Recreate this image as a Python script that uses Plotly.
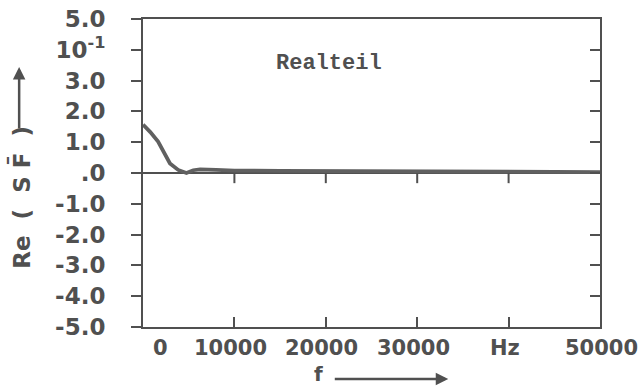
import plotly.graph_objects as go

# constants:
INK = "#505050"
TICK_FONT = "DejaVu Sans"

# data:
freq_hz = [0, 800, 1650, 2400, 2950, 3850, 4750, 5500, 6250, 8000, 10000, 15000, 20000, 30000, 40000, 50000]
re_sf = [1.57, 1.33, 1.02, 0.62, 0.31, 0.10, 0.00, 0.09, 0.12, 0.10, 0.08, 0.07, 0.06, 0.05, 0.04, 0.03]

x_tickvals = [0, 10000, 20000, 30000, 40000, 50000]
x_ticktext = ["0", "10000", "20000", "30000", "Hz", "50000"]
y_tickvals = [5, 4, 3, 2, 1, 0, -1, -2, -3, -4, -5]
y_ticktext = ["5.0", "10<sup>-1</sup>", "3.0", "2.0", "1.0", ".0", "-1.0", "-2.0", "-3.0", "-4.0", "-5.0"]

fig = go.Figure()
fig.add_trace(go.Scatter(x=freq_hz, y=re_sf, mode="lines", line=dict(color="#606060", width=3.8),
                         hoverinfo="skip", showlegend=False))
fig.add_trace(go.Scatter(x=[0], y=[0], xaxis="x", yaxis="y2", mode="markers", opacity=0,
                         hoverinfo="skip", showlegend=False))

axis_common = dict(showgrid=False, linecolor=INK, tickcolor=INK, tickwidth=2, ticklen=10, automargin=False)

fig.update_layout(
    width=640, height=387,
    margin=dict(l=143, r=40, t=19, b=60),
    paper_bgcolor="white", plot_bgcolor="white",
    font=dict(family=TICK_FONT, color=INK),
    xaxis=dict(range=[0, 50000], tickvals=x_tickvals[1:-1], showticklabels=False,
               ticks="inside", showline=True, linewidth=2, mirror=True, zeroline=False, **axis_common),
    yaxis=dict(range=[-5, 5], tickvals=y_tickvals, ticktext=y_ticktext, ticks="outside",
               showline=True, linewidth=2, mirror=True, zeroline=True, zerolinecolor=INK,
               zerolinewidth=2, ticklabelstandoff=21,
               tickfont=dict(size=23, family=TICK_FONT, weight="bold"), **axis_common),
    yaxis2=dict(range=[-5, 5], overlaying="y", side="right", tickvals=y_tickvals, ticks="inside",
                showticklabels=False, showline=False, zeroline=False, **axis_common),
)

# small downward ticks on the zero line at the x tick positions
for val in x_tickvals[1:-1]:
    fig.add_shape(type="line", xref="x", yref="y", x0=val, x1=val, y0=0, y1=-0.33,
                  line=dict(color=INK, width=2))

# x tick labels drawn as annotations so "0" and "50000" sit like the original
for val, txt in zip(x_tickvals, x_ticktext):
    shift = 17 if val == 0 else (1 if val == 50000 else -4)
    fig.add_annotation(x=val, y=0, xref="x", yref="paper", xanchor="center", yanchor="top",
                       yshift=-7, xshift=shift, text=txt, showarrow=False,
                       font=dict(size=21, color=INK, family=TICK_FONT, weight="bold"))

fig.add_annotation(x=0.407, y=0.857, xref="paper", yref="paper", xanchor="center", yanchor="middle",
                   text="<b>Realteil</b>", showarrow=False,
                   font=dict(family="Liberation Mono", size=22, color=INK))

# axis titles with arrows
fig.add_annotation(x=-0.269, y=0.42, xref="paper", yref="paper", xanchor="center", yanchor="middle",
                   text="Re  (  S F\u0304  )", textangle=-90, showarrow=False,
                   font=dict(size=23, color=INK, family=TICK_FONT, weight="bold"))
fig.add_annotation(x=-0.271, y=(327 - 67) / 308, xref="paper", yref="paper", text="", showarrow=True,
                   ax=0, ay=63, arrowhead=2, arrowsize=1, arrowwidth=2.5, arrowcolor=INK)
fig.add_annotation(x=19150, y=-0.1525, xref="x", yref="paper", xanchor="center", yanchor="middle",
                   text="f", showarrow=False,
                   font=dict(size=20, color=INK, family=TICK_FONT, weight="bold"))
fig.add_annotation(x=33400, y=-0.169, xref="x", yref="paper", text="", showarrow=True,
                   ax=-115, ay=0, arrowhead=2, arrowsize=1, arrowwidth=2.5, arrowcolor=INK)

fig.write_html("out.html", config={"displayModeBar": False},
               post_script="document.body.style.margin='0';document.body.style.overflow='hidden';")
